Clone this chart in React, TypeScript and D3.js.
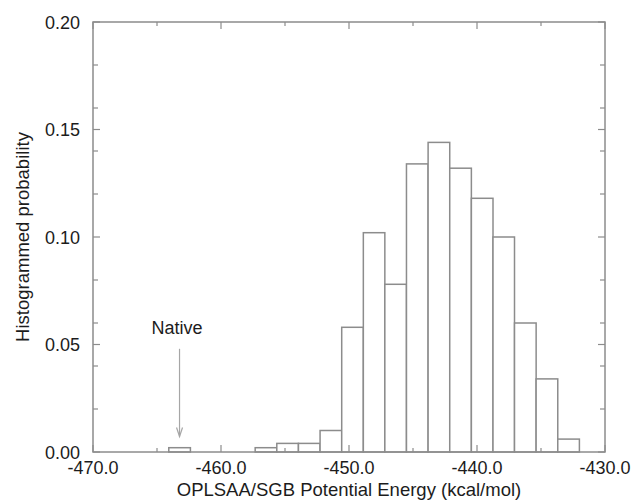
import React from "react";
import * as d3 from "d3";

// histogram of OPLSAA/SGB energies; left edges of each bin (kcal/mol)
const binEdges = [
  -464.08, -462.39, -460.7, -459.02, -457.33, -455.64, -453.95, -452.26,
  -450.57, -448.88, -447.2, -445.51, -443.82, -442.13, -440.44, -438.75,
  -437.07, -435.38, -433.69, -432.0,
];
const probability = [
  0.002, 0, 0, 0, 0.002, 0.004, 0.004, 0.01, 0.058, 0.102, 0.078, 0.134,
  0.144, 0.132, 0.118, 0.1, 0.06, 0.034, 0.006,
];
const nativeLabel = "Native";
const nativeEnergy = -463.24;
const xTitle = "OPLSAA/SGB Potential Energy (kcal/mol)";
const yTitle = "Histogrammed probability";

const width = 633;
const height = 502;
const margin = { top: 22, right: 28, bottom: 50, left: 93 };
const frame = "#8c8c8c";
const ink = "#1c1c1c";
const font = "'Liberation Sans', Arial, Helvetica, sans-serif";

const x = d3
  .scaleLinear()
  .domain([-470, -430])
  .range([margin.left, width - margin.right]);
const y = d3
  .scaleLinear()
  .domain([0, 0.2])
  .range([height - margin.bottom, margin.top]);

const xMajor = x.ticks(4);
const xMinor = x.ticks(8).filter((t) => !xMajor.includes(t));
const yMajor = y.ticks(4);
const yMinor = y.ticks(8).filter((t) => !yMajor.some((m) => Math.abs(m - t) < 1e-9));
// plain hyphen instead of d3's unicode minus, like the original
const fx = (v: number) => d3.format(".1f")(v).replace("\u2212", "-");
const fy = d3.format(".2f");

export default function App() {
  const [x0, x1] = x.range();
  const [y0, y1] = y.range();
  const bars = probability
    .map((p, i) => ({ p, left: binEdges[i], right: binEdges[i + 1] }))
    .filter((b) => b.p > 0);

  const ax = x(nativeEnergy);
  const aTop = y(0.048);
  const aBot = y(0.0072);

  return (
    <svg
      width={width}
      height={height}
      style={{ position: "absolute", left: 0, top: 0, background: "#fff" }}
      fontFamily={font}
    >
      {/* bars */}
      <g fill="#fff" stroke={frame} strokeWidth={1.5}>
        {bars.map((b, i) => (
          <rect
            key={i}
            x={x(b.left)}
            y={y(b.p)}
            width={x(b.right) - x(b.left)}
            height={y(0) - y(b.p)}
          />
        ))}
      </g>

      {/* ticks on all four sides, pointing inward */}
      <g stroke={frame} strokeWidth={1.2}>
        {xMajor.map((t) => (
          <g key={"xM" + t}>
            <line x1={x(t)} x2={x(t)} y1={y0} y2={y0 - 7} />
            <line x1={x(t)} x2={x(t)} y1={y1} y2={y1 + 7} />
          </g>
        ))}
        {xMinor.map((t) => (
          <g key={"xm" + t}>
            <line x1={x(t)} x2={x(t)} y1={y0} y2={y0 - 4} />
            <line x1={x(t)} x2={x(t)} y1={y1} y2={y1 + 4} />
          </g>
        ))}
        {yMajor.map((t) => (
          <g key={"yM" + t}>
            <line x1={x0} x2={x0 + 7} y1={y(t)} y2={y(t)} />
            <line x1={x1} x2={x1 - 7} y1={y(t)} y2={y(t)} />
          </g>
        ))}
        {yMinor.map((t) => (
          <g key={"ym" + t}>
            <line x1={x0} x2={x0 + 5} y1={y(t)} y2={y(t)} />
            <line x1={x1} x2={x1 - 5} y1={y(t)} y2={y(t)} />
          </g>
        ))}
      </g>

      <rect
        x={x0}
        y={y1}
        width={x1 - x0}
        height={y0 - y1}
        fill="none"
        stroke={frame}
        strokeWidth={1.5}
      />

      {/* tick labels */}
      <g fill={ink} fontSize={18}>
        {xMajor.map((t) => (
          <text key={"xl" + t} x={x(t)} y={y0 + 22} textAnchor="middle">
            {fx(t)}
          </text>
        ))}
        {yMajor.map((t) => (
          <text
            key={"yl" + t}
            x={x0 - 13}
            y={y(t) + 6.5}
            textAnchor="end"
          >
            {fy(t)}
          </text>
        ))}
      </g>

      {/* axis titles */}
      <text
        x={(x0 + x1) / 2}
        y={496}
        textAnchor="middle"
        fontSize={18.5}
        fill={ink}
      >
        {xTitle}
      </text>
      <text
        transform={`translate(29,${(y0 + y1) / 2}) rotate(-90)`}
        textAnchor="middle"
        fontSize={18.5}
        fill={ink}
      >
        {yTitle}
      </text>

      {/* native annotation */}
      <text
        x={ax - 2.5}
        y={y(0.055)}
        textAnchor="middle"
        fontSize={18}
        fill={ink}
      >
        {nativeLabel}
      </text>
      <g stroke="#a6a6a6" strokeWidth={1.2} fill="none">
        <line x1={ax} x2={ax} y1={aTop} y2={aBot} />
        <path d={`M${ax - 3},${aBot - 9} L${ax},${aBot} L${ax + 3},${aBot - 9}`} />
      </g>
    </svg>
  );
}
